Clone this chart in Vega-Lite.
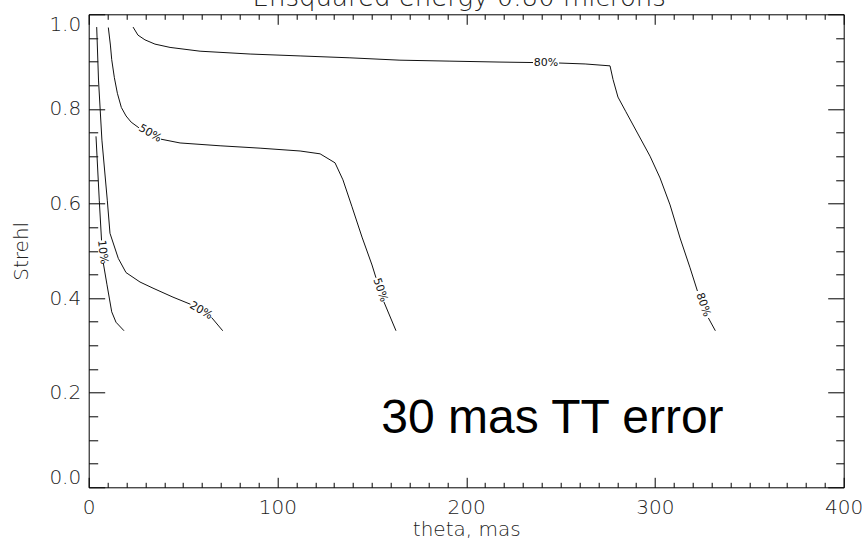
{
  "$schema": "https://vega.github.io/schema/vega-lite/v6.json",
  "width": 755,
  "height": 473,
  "autosize": {"type": "none"},
  "padding": {"left": 88.7, "top": 14.3, "right": 21.3, "bottom": 52.7},
  "background": "white",
  "config": {"view": {"stroke": "#000", "strokeWidth": 1}, "font": "DejaVu Sans"},
  "title": {"text": "Ensquared energy 0.80 microns", "fontSize": 26, "fontWeight": 200, "font": "DejaVu Sans", "color": "#222", "baseline": "alphabetic", "offset": -18, "dx": -7, "anchor": "middle"},
  "datasets": {
    "contours": [
      {"curve": "80a", "theta": 23.5, "strehl": 0.973},
      {"curve": "80a", "theta": 26.1, "strehl": 0.956},
      {"curve": "80a", "theta": 29.8, "strehl": 0.946},
      {"curve": "80a", "theta": 35.1, "strehl": 0.937},
      {"curve": "80a", "theta": 43.1, "strehl": 0.930},
      {"curve": "80a", "theta": 59.0, "strehl": 0.922},
      {"curve": "80a", "theta": 85.5, "strehl": 0.916},
      {"curve": "80a", "theta": 112.0, "strehl": 0.912},
      {"curve": "80a", "theta": 138.4, "strehl": 0.908},
      {"curve": "80a", "theta": 164.9, "strehl": 0.903},
      {"curve": "80a", "theta": 191.4, "strehl": 0.901},
      {"curve": "80a", "theta": 217.9, "strehl": 0.899},
      {"curve": "80a", "theta": 235.4, "strehl": 0.898},
      {"curve": "80b", "theta": 249.2, "strehl": 0.897},
      {"curve": "80b", "theta": 263.0, "strehl": 0.895},
      {"curve": "80b", "theta": 276.2, "strehl": 0.891},
      {"curve": "80b", "theta": 277.8, "strehl": 0.862},
      {"curve": "80b", "theta": 280.4, "strehl": 0.825},
      {"curve": "80b", "theta": 284.6, "strehl": 0.794},
      {"curve": "80b", "theta": 291.0, "strehl": 0.747},
      {"curve": "80b", "theta": 297.4, "strehl": 0.700},
      {"curve": "80b", "theta": 302.7, "strehl": 0.654},
      {"curve": "80b", "theta": 308.0, "strehl": 0.597},
      {"curve": "80b", "theta": 313.3, "strehl": 0.527},
      {"curve": "80b", "theta": 318.6, "strehl": 0.464},
      {"curve": "80b", "theta": 322.5, "strehl": 0.415},
      {"curve": "80c", "theta": 328.3, "strehl": 0.358},
      {"curve": "80c", "theta": 332.0, "strehl": 0.331},
      {"curve": "50a", "theta": 10.4, "strehl": 0.972},
      {"curve": "50a", "theta": 11.5, "strehl": 0.935},
      {"curve": "50a", "theta": 12.2, "strehl": 0.904},
      {"curve": "50a", "theta": 13.6, "strehl": 0.866},
      {"curve": "50a", "theta": 15.2, "strehl": 0.833},
      {"curve": "50a", "theta": 17.3, "strehl": 0.803},
      {"curve": "50a", "theta": 19.8, "strehl": 0.785},
      {"curve": "50a", "theta": 22.5, "strehl": 0.772},
      {"curve": "50a", "theta": 26.6, "strehl": 0.760},
      {"curve": "50b", "theta": 38.3, "strehl": 0.736},
      {"curve": "50b", "theta": 48.4, "strehl": 0.728},
      {"curve": "50b", "theta": 69.6, "strehl": 0.722},
      {"curve": "50b", "theta": 90.8, "strehl": 0.717},
      {"curve": "50b", "theta": 112.0, "strehl": 0.711},
      {"curve": "50b", "theta": 122.6, "strehl": 0.705},
      {"curve": "50b", "theta": 130.5, "strehl": 0.686},
      {"curve": "50b", "theta": 134.7, "strehl": 0.650},
      {"curve": "50b", "theta": 139.5, "strehl": 0.593},
      {"curve": "50b", "theta": 144.8, "strehl": 0.529},
      {"curve": "50b", "theta": 150.1, "strehl": 0.470},
      {"curve": "50b", "theta": 152.2, "strehl": 0.443},
      {"curve": "50c", "theta": 156.4, "strehl": 0.392},
      {"curve": "50c", "theta": 162.8, "strehl": 0.331},
      {"curve": "20a", "theta": 4.24, "strehl": 0.973},
      {"curve": "20a", "theta": 5.2, "strehl": 0.861},
      {"curve": "20a", "theta": 7.0, "strehl": 0.734},
      {"curve": "20a", "theta": 9.85, "strehl": 0.607},
      {"curve": "20a", "theta": 11.28, "strehl": 0.537},
      {"curve": "20a", "theta": 15.68, "strehl": 0.484},
      {"curve": "20a", "theta": 19.76, "strehl": 0.454},
      {"curve": "20a", "theta": 27.18, "strehl": 0.434},
      {"curve": "20a", "theta": 34.07, "strehl": 0.421},
      {"curve": "20a", "theta": 44.66, "strehl": 0.402},
      {"curve": "20a", "theta": 53.9, "strehl": 0.387},
      {"curve": "20b", "theta": 65.1, "strehl": 0.359},
      {"curve": "20b", "theta": 71.0, "strehl": 0.331},
      {"curve": "10a", "theta": 3.87, "strehl": 0.742},
      {"curve": "10a", "theta": 5.6, "strehl": 0.607},
      {"curve": "10a", "theta": 6.8, "strehl": 0.522},
      {"curve": "10b", "theta": 7.74, "strehl": 0.474},
      {"curve": "10b", "theta": 9.70, "strehl": 0.428},
      {"curve": "10b", "theta": 12.19, "strehl": 0.371},
      {"curve": "10b", "theta": 14.46, "strehl": 0.349},
      {"curve": "10b", "theta": 18.70, "strehl": 0.331}
    ],
    "labels": [
      {"text": "80%", "theta": 242.3, "strehl": 0.897, "pos": "flat"},
      {"text": "50%", "theta": 32.5, "strehl": 0.748, "pos": "diag"},
      {"text": "20%", "theta": 59.5, "strehl": 0.373, "pos": "diag"},
      {"text": "50%", "theta": 154.4, "strehl": 0.417, "pos": "steep"},
      {"text": "80%", "theta": 325.5, "strehl": 0.386, "pos": "steep"},
      {"text": "10%", "theta": 7.3, "strehl": 0.497, "pos": "vert"}
    ],
    "note": [
      {"text": "30 mas TT error", "theta": 155, "strehl": 0.115}
    ]
  },
  "layer": [
    {
      "data": {"name": "contours"},
      "mark": {"type": "line", "stroke": "#111", "strokeWidth": 1},
      "encoding": {
        "x": {
          "field": "theta", "type": "quantitative",
          "scale": {"domain": [0, 400], "nice": false, "zero": false},
          "axis": {
            "orient": "bottom", "offset": -10, "tickSize": 10, "domain": false,
            "values": [0, 100, 200, 300, 400],
            "tickColor": "#000", "grid": false,
            "labelFont": "DejaVu Sans", "labelFontSize": 20, "labelFontWeight": 200, "labelColor": "#222", "labelPadding": 10,
            "labelOverlap": false, "labelFlush": false,
            "title": "theta, mas", "titleFont": "DejaVu Sans", "titleFontSize": 20, "titleFontWeight": 200, "titleColor": "#222",
            "titleBaseline": "alphabetic", "titleY": 58
          }
        },
        "y": {
          "field": "strehl", "type": "quantitative",
          "scale": {"domain": [0, 1], "nice": false},
          "axis": {
            "orient": "left", "offset": -16, "tickSize": 16, "domain": false,
            "values": [0, 0.2, 0.4, 0.6, 0.8, 1],
            "format": ".1f",
            "tickColor": "#000", "grid": false,
            "labelFont": "DejaVu Sans", "labelFontSize": 20, "labelFontWeight": 200, "labelColor": "#222", "labelPadding": 8,
            "labelOverlap": false, "labelFlush": true,
            "title": "Strehl", "titleFont": "DejaVu Sans", "titleFontSize": 20, "titleFontWeight": 200, "titleColor": "#222",
            "titleBaseline": "alphabetic", "titleX": -77.7
          }
        },
        "detail": {"field": "curve"}
      }
    },
    {
      "data": {"name": "labels"},
      "transform": [{"filter": "datum.pos === 'flat'"}],
      "mark": {"type": "text", "font": "DejaVu Sans", "fontSize": 11, "fill": "#111", "align": "center", "baseline": "middle", "angle": 0},
      "encoding": {
        "x": {
          "field": "theta", "type": "quantitative",
          "axis": {"orient": "top", "offset": -10, "tickSize": 10, "domain": false, "values": [0, 100, 200, 300, 400], "labels": false, "tickColor": "#000", "grid": false, "title": null}
        },
        "y": {
          "field": "strehl", "type": "quantitative",
          "axis": {"orient": "right", "offset": -16, "tickSize": 16, "domain": false, "values": [0, 0.2, 0.4, 0.6, 0.8, 1], "labels": false, "tickColor": "#000", "grid": false, "title": null}
        },
        "text": {"field": "text"}
      }
    },
    {
      "data": {"name": "labels"},
      "transform": [{"filter": "datum.pos === 'diag'"}],
      "mark": {"type": "text", "font": "DejaVu Sans", "fontSize": 11, "fill": "#111", "align": "center", "baseline": "middle", "angle": 30},
      "encoding": {
        "x": {
          "field": "theta", "type": "quantitative",
          "axis": {"orient": "bottom", "offset": -5, "tickSize": 5, "domain": false,
            "values": [10,20,30,40,50,60,70,80,90,110,120,130,140,150,160,170,180,190,210,220,230,240,250,260,270,280,290,310,320,330,340,350,360,370,380,390],
            "labels": false, "tickColor": "#000", "grid": false, "title": null}
        },
        "y": {
          "field": "strehl", "type": "quantitative",
          "axis": {"orient": "left", "offset": -9, "tickSize": 9, "domain": false,
            "values": [0.05, 0.1, 0.15, 0.25, 0.3, 0.35, 0.45, 0.5, 0.55, 0.65, 0.7, 0.75, 0.85, 0.9, 0.95],
            "labels": false, "tickColor": "#000", "grid": false, "title": null}
        },
        "text": {"field": "text"}
      }
    },
    {
      "data": {"name": "labels"},
      "transform": [{"filter": "datum.pos === 'steep'"}],
      "mark": {"type": "text", "font": "DejaVu Sans", "fontSize": 11, "fill": "#111", "align": "center", "baseline": "middle", "angle": 71},
      "encoding": {
        "x": {
          "field": "theta", "type": "quantitative",
          "axis": {"orient": "top", "offset": -5, "tickSize": 5, "domain": false,
            "values": [10,20,30,40,50,60,70,80,90,110,120,130,140,150,160,170,180,190,210,220,230,240,250,260,270,280,290,310,320,330,340,350,360,370,380,390],
            "labels": false, "tickColor": "#000", "grid": false, "title": null}
        },
        "y": {
          "field": "strehl", "type": "quantitative",
          "axis": {"orient": "right", "offset": -8, "tickSize": 8, "domain": false,
            "values": [0.05, 0.1, 0.15, 0.25, 0.3, 0.35, 0.45, 0.5, 0.55, 0.65, 0.7, 0.75, 0.85, 0.9, 0.95],
            "labels": false, "tickColor": "#000", "grid": false, "title": null}
        },
        "text": {"field": "text"}
      }
    },
    {
      "data": {"name": "labels"},
      "transform": [{"filter": "datum.pos === 'vert'"}],
      "mark": {"type": "text", "font": "DejaVu Sans", "fontSize": 11, "fill": "#111", "align": "center", "baseline": "middle", "angle": 83},
      "encoding": {
        "x": {"field": "theta", "type": "quantitative", "axis": null},
        "y": {"field": "strehl", "type": "quantitative", "axis": null},
        "text": {"field": "text"}
      }
    },
    {
      "data": {"name": "note"},
      "mark": {"type": "text", "font": "Liberation Sans", "fontSize": 48, "fill": "#000", "align": "left", "baseline": "alphabetic"},
      "encoding": {
        "x": {"field": "theta", "type": "quantitative", "axis": null},
        "y": {"field": "strehl", "type": "quantitative", "axis": null},
        "text": {"field": "text"}
      }
    }
  ],
  "resolve": {"axis": {"x": "independent", "y": "independent"}}
}
